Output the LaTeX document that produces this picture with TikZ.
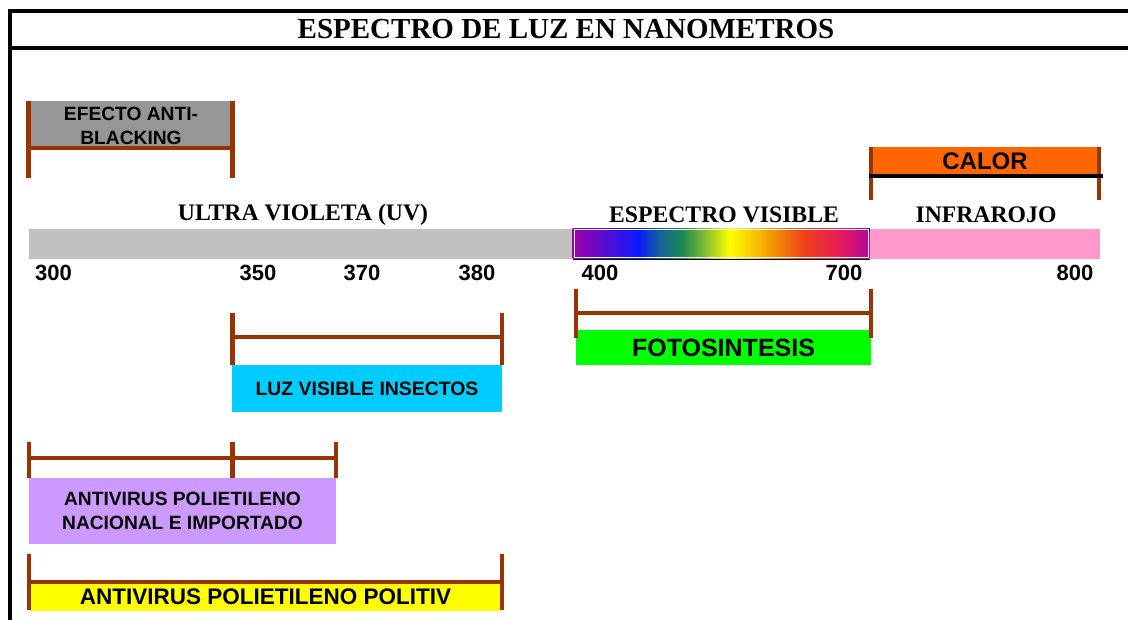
\documentclass[tikz,border=0pt]{standalone}
\usepackage{fontspec}
\setmainfont{Liberation Serif}
\setsansfont{Liberation Sans}
\definecolor{brn}{HTML}{993300}
\definecolor{grayb}{HTML}{969696}
\definecolor{uvbar}{HTML}{C0C0C0}
\definecolor{irbar}{HTML}{FF99CC}
\definecolor{calor}{HTML}{FF6600}
\definecolor{cyanb}{HTML}{00CCFF}
\definecolor{greenb}{HTML}{00FF00}
\definecolor{purpb}{HTML}{CC99FF}
\definecolor{yellb}{HTML}{FFFF00}
\definecolor{s0}{HTML}{A000A8}
\definecolor{s1}{HTML}{0A1AFF}
\definecolor{s2}{HTML}{1560A0}
\definecolor{s3}{HTML}{1E8A50}
\definecolor{s4}{HTML}{8AC030}
\definecolor{s5}{HTML}{FFFF00}
\definecolor{s6}{HTML}{F5A800}
\definecolor{s7}{HTML}{EE4018}
\definecolor{s8}{HTML}{E81C5A}
\definecolor{s9}{HTML}{B0089C}
\begin{document}
\begin{tikzpicture}[x=1pt,y=-1pt,
  box/.style={inner sep=0pt, outer sep=0pt, align=center, text=black},
  lab/.style 2 args={font=\sffamily\bfseries\fontsize{#1}{#2}\selectfont, align=center, inner sep=0pt},
  serifl/.style={font=\rmfamily\bfseries\fontsize{#1}{#1}\selectfont, inner sep=0pt},
  num/.style={font=\sffamily\bfseries\fontsize{22}{22}\selectfont, inner sep=0pt},
  brk/.style={draw=brn, line width=4.5pt}]
\useasboundingbox (0,0) rectangle (1128,620);
% frame
\draw[line width=3.5pt] (1128,11) -- (10,11) -- (10,620);
\draw[line width=3.5pt] (10,48) -- (1128,48);
\node[serifl=29] (title) at (566,29) {ESPECTRO DE LUZ EN NANOMETROS};

% EFECTO ANTI-BLACKING
\fill[grayb] (31,101) rectangle (230,146);
\node[box, lab={19.2}{23.5}] (eab) at (131,126) {EFECTO ANTI-\\BLACKING};
\draw[brk] (28.5,101) -- (28.5,178) (232.5,101) -- (232.5,178) (28.5,148) -- (232.5,148);

% CALOR
\node[box, fill=calor, minimum width=226pt, minimum height=28pt, lab={24}{24}] (calor) at (985,161) {CALOR};
\draw[brk] (871,147) -- (871,200) (1099,147) -- (1099,200);
\draw[line width=4pt] (869,176) -- (1103,176);

% bar
\node[box, fill=uvbar, minimum width=544pt, minimum height=30pt] (uv) at (301,244) {};
\node[box, fill=irbar, minimum width=231pt, minimum height=30pt] (ir) at (984.5,244) {};
\foreach \a/\b/\ta/\tb in {s0/s1/0/0.22, s1/s2/0.22/0.29, s2/s3/0.29/0.37, s3/s4/0.37/0.45, s4/s5/0.45/0.53, s5/s6/0.53/0.65, s6/s7/0.65/0.78, s7/s8/0.78/0.90, s8/s9/0.90/1.0}{
  \shade[left color=\a, right color=\b] ({573+296*\ta-0.3},229) rectangle ({573+296*\tb+0.3},259);
}
\node[box, draw=white, line width=1pt, minimum width=294pt, minimum height=28pt] (vis) at (721,244) {};
\draw[line width=1.5pt] (573,259.5) -- (870,259.5);
\draw[line width=1pt] (869.5,228) -- (869.5,232);

\node[serifl=23.7] (uvl) at (303,215) {ULTRA VIOLETA (UV)};
\node[serifl=23.7] (visl) at (724,215) {ESPECTRO VISIBLE};
\node[serifl=23.7] (irl) at (986,215) {INFRAROJO};

\node[num] (n300) at (53.5,273) {300};
\node[num] (n350) at (258,273) {350};
\node[num] (n370) at (362,273) {370};
\node[num] (n380) at (477,273) {380};
\node[num] (n400) at (600,273) {400};
\node[num] (n700) at (844,273) {700};
\node[num] (n800) at (1075,273) {800};

% FOTOSINTESIS
\node[box, fill=greenb, minimum width=295pt, minimum height=35pt, lab={25}{25}] (foto) at (723.5,348) {FOTOSINTESIS};
\draw[brk] (576,289) -- (576,338) (871,289) -- (871,338) (576,313) -- (871,313);

% LUZ VISIBLE INSECTOS
\node[box, fill=cyanb, minimum width=270pt, minimum height=47pt, lab={19.4}{19.4}] (luz) at (367,388.5) {LUZ VISIBLE INSECTOS};
\draw[brk] (232.5,313) -- (232.5,365) (502,313) -- (502,365) (232.5,337) -- (502,337);

% ANTIVIRUS NACIONAL
\node[box, fill=purpb, minimum width=307pt, minimum height=66pt, lab={19.2}{24}] (nac) at (182.5,511) {ANTIVIRUS POLIETILENO\\NACIONAL E IMPORTADO};
\draw[brk] (29,442) -- (29,478) (232.5,442) -- (232.5,478) (336,442) -- (336,478) (29,458) -- (336,458);

% ANTIVIRUS POLITIV
\node[box, fill=yellb, minimum width=471pt, minimum height=28pt, lab={22.5}{22.5}] (pol) at (265.5,597) {ANTIVIRUS POLIETILENO POLITIV};
\draw[brk] (29,554) -- (29,610) (502,554) -- (502,610) (29,582) -- (502,582);
\end{tikzpicture}
\end{document}
